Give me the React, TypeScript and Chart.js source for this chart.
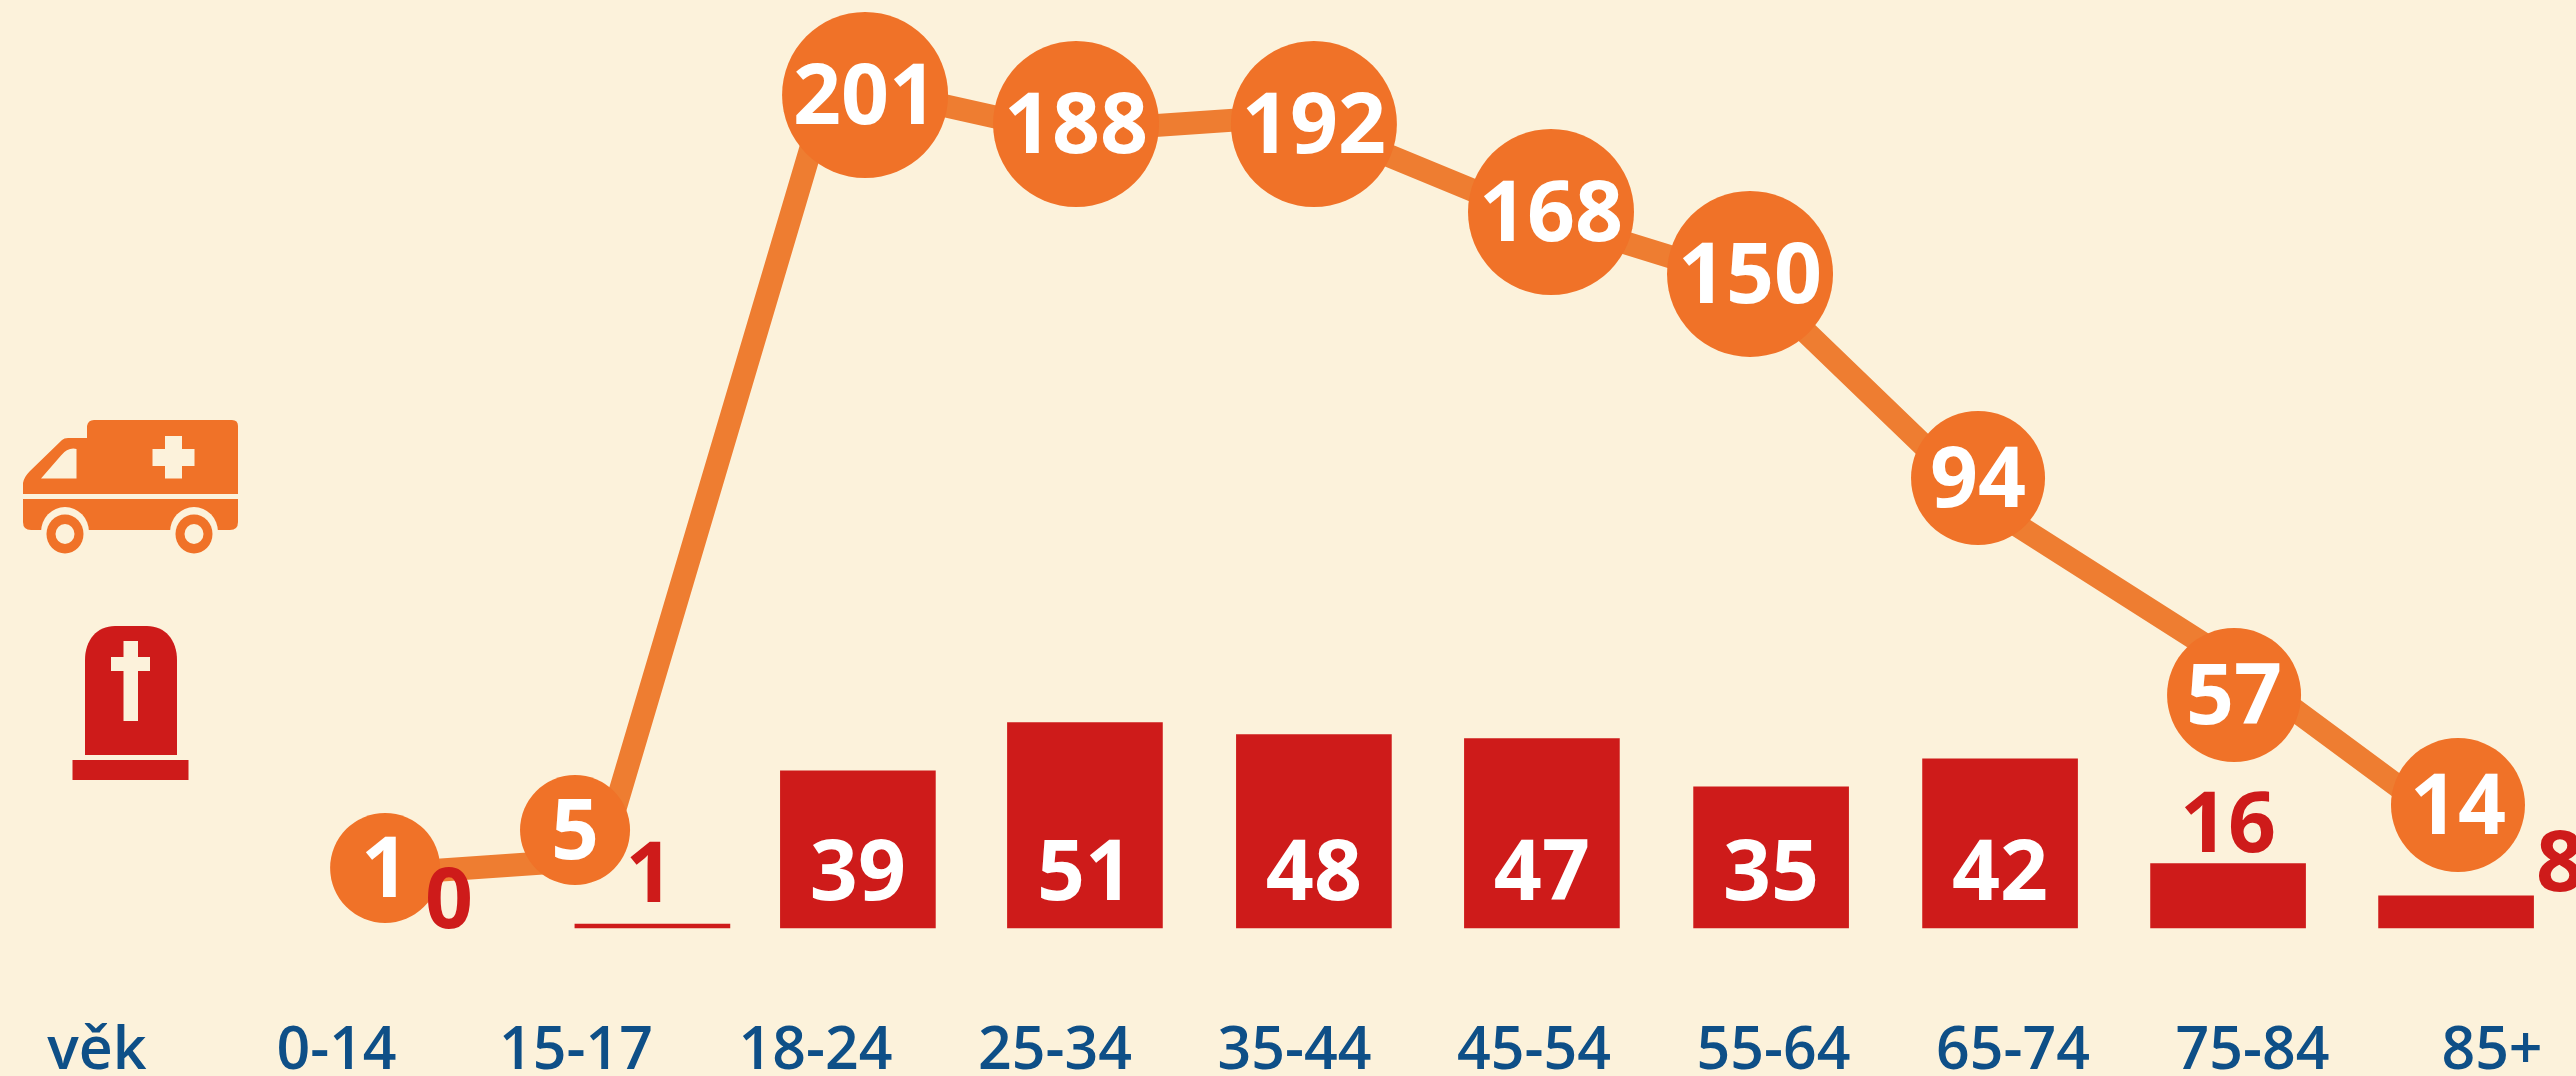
import React, { useEffect, useRef } from "react";
import { Chart, registerables, LinearScale } from "chart.js";

const axisLabels = ["věk", "0-14", "15-17", "18-24", "25-34", "35-44", "45-54", "55-64", "65-74", "75-84", "85+"];
const callValues = [1, 5, 201, 188, 192, 168, 150, 94, 57, 14];
const deathValues = [0, 1, 39, 51, 48, 47, 35, 42, 16, 8];

const BACKGROUND = "#FCF2DB";
const LINE_ORANGE = "#EE7D31";
const POINT_ORANGE = "#F07228";
const RED = "#CE1B1A";
const BLUE = "#0E4F87";
const FONT = '"Open Sans", "Noto Sans", sans-serif';

// The line follows evenly spaced axes, but the bubbles and bars were hand-placed
// in the infographic, so their hidden axes are calibrated.
// Each pair is [data value, decimal position along the axis].
const bubbleLevelKnots = [[1, 0.0825], [5, 0.1226], [14, 0.149], [57, 0.2653], [94, 0.4947], [150, 0.7104], [168, 0.7759], [188, 0.8689], [192, 0.8689], [201, 0.8996]];
const bubbleSlotKnots = [[0, 0.1203], [1, 0.1996], [2, 0.3207], [3, 0.4088], [4, 0.5081], [5, 0.6071], [6, 0.6902], [7, 0.7854], [8, 0.8923], [9, 0.9858]];
const deathSlotKnots = [[0, 0.147], [1, 0.2319], [2, 0.3177], [3, 0.4125], [4, 0.5081], [5, 0.6033], [6, 0.699], [7, 0.7946], [8, 0.8898], [9, 0.985]];
const trendSlotKnots = [[0, 0.1136], [9, 0.9816]];
const trendLevelKnots = [[0, 0.0709], [201, 0.9151]];

class CalibratedScale extends LinearScale {
  static id = "calibrated";
  static defaults = LinearScale.defaults;
  getPixelForValue(value: number) {
    const knots = (this.options as any).knots as number[][];
    let i = 0;
    while (i < knots.length - 2 && value > knots[i + 1][0]) i++;
    const [v0, d0] = knots[i];
    const [v1, d1] = knots[i + 1];
    return this.getPixelForDecimal(d0 + ((value - v0) / (v1 - v0)) * (d1 - d0));
  }
}

Chart.register(...registerables, CalibratedScale as any);

function drawAmbulance(c: CanvasRenderingContext2D) {
  c.save();
  c.fillStyle = POINT_ORANGE;
  c.beginPath();
  c.moveTo(23, 494);
  c.lineTo(23, 483);
  c.quadraticCurveTo(24, 477, 30, 471);
  c.lineTo(62, 440);
  c.quadraticCurveTo(64, 438, 68, 438);
  c.lineTo(87, 438);
  c.lineTo(87, 426);
  c.quadraticCurveTo(88, 420, 94, 420);
  c.lineTo(232, 420);
  c.quadraticCurveTo(238, 420, 238, 426);
  c.lineTo(238, 494);
  c.closePath();
  c.fill();
  c.beginPath();
  c.moveTo(23, 499);
  c.lineTo(238, 499);
  c.lineTo(238, 522);
  c.quadraticCurveTo(238, 530, 230, 530);
  c.lineTo(31, 530);
  c.quadraticCurveTo(23, 530, 23, 522);
  c.closePath();
  c.fill();
  c.fillStyle = BACKGROUND;
  c.beginPath();
  c.moveTo(76.5, 449);
  c.lineTo(76.5, 478.5);
  c.lineTo(41, 478.5);
  c.lineTo(61, 455.5);
  c.quadraticCurveTo(68, 447, 76.5, 449);
  c.closePath();
  c.fill();
  c.fillRect(152.5, 449, 42, 17);
  c.fillRect(165, 436, 17, 42.5);
  for (const x of [65, 194]) {
    c.fillStyle = BACKGROUND;
    c.beginPath();
    c.ellipse(x, 532, 24, 25, 0, 0, Math.PI * 2);
    c.fill();
    c.fillStyle = POINT_ORANGE;
    c.beginPath();
    c.ellipse(x, 534, 18.5, 19.5, 0, 0, Math.PI * 2);
    c.fill();
    c.fillStyle = BACKGROUND;
    c.beginPath();
    c.ellipse(x, 534, 9.5, 10, 0, 0, Math.PI * 2);
    c.fill();
  }
  c.restore();
}

function drawTombstone(c: CanvasRenderingContext2D) {
  c.save();
  c.fillStyle = RED;
  c.beginPath();
  c.moveTo(85, 755);
  c.lineTo(85, 660);
  c.bezierCurveTo(85, 640, 97, 626, 115, 626);
  c.lineTo(147, 626);
  c.bezierCurveTo(165, 626, 177, 640, 177, 660);
  c.lineTo(177, 755);
  c.closePath();
  c.fill();
  c.fillRect(72.5, 760, 116, 20);
  c.fillStyle = BACKGROUND;
  c.fillRect(123.5, 641, 14.5, 80);
  c.fillRect(111, 657, 39, 14);
  c.restore();
}

const pictogramPlugin = {
  id: "pictograms",
  beforeDatasetsDraw(chart: any) {
    drawAmbulance(chart.ctx);
    drawTombstone(chart.ctx);
  },
};

// Nudges for the small death counts, which sit beside or above their bars.
const smallLabelNudge: Record<number, [number, number]> = {
  0: [0, -29],
  1: [-3, -51],
  8: [0, -41],
  9: [104, -34],
};

const valueLabelPlugin = {
  id: "valueLabels",
  afterDatasetsDraw(chart: any) {
    const c = chart.ctx;
    const capHalf = 29;
    c.save();
    c.font = `700 84px ${FONT}`;
    c.textAlign = "center";
    c.textBaseline = "alphabetic";
    chart.getDatasetMeta(2).data.forEach((pt: any, i: number) => {
      c.fillStyle = "#FFFFFF";
      c.fillText(String(callValues[i]), pt.x, pt.y + capHalf);
    });
    chart.getDatasetMeta(0).data.forEach((bar: any, i: number) => {
      const nudge = smallLabelNudge[i];
      if (nudge) {
        c.fillStyle = RED;
        c.fillText(String(deathValues[i]), bar.x + nudge[0], bar.y + nudge[1] + capHalf);
      } else {
        c.fillStyle = "#FFFFFF";
        c.fillText(String(deathValues[i]), bar.x, bar.base - 57 + capHalf);
      }
    });
    c.restore();
  },
};

const bubbleRadius = (ctx: any) => [0, 55, 67, 83][String(callValues[ctx.dataIndex]).length];

export default function App() {
  const ref = useRef<HTMLCanvasElement>(null);
  useEffect(() => {
    document.body.style.margin = "0";
    document.body.style.overflow = "hidden";
    const chart = new Chart(ref.current as HTMLCanvasElement, {
      type: "bar",
      data: {
        datasets: [
          {
            type: "bar",
            label: "zemřelí",
            data: deathValues.map((y, x) => ({ x, y })),
            xAxisID: "xDeaths",
            yAxisID: "yDeaths",
            backgroundColor: (ctx: any) => (deathValues[ctx.dataIndex] > 0 ? RED : "rgba(0,0,0,0)"),
            barThickness: 155,
            grouped: false,
            clip: false,
            order: 3,
          },
          {
            type: "line",
            label: "výjezdy",
            data: callValues.map((y, x) => ({ x, y })),
            xAxisID: "xTrend",
            yAxisID: "yTrend",
            borderColor: LINE_ORANGE,
            borderWidth: 23,
            tension: 0,
            pointRadius: 0,
            clip: false,
            order: 2,
          },
          {
            type: "line",
            label: "výjezdy (popisky)",
            data: callValues.map((y, x) => ({ x, y })),
            xAxisID: "xBubbles",
            yAxisID: "yBubbles",
            showLine: false,
            pointBackgroundColor: POINT_ORANGE,
            pointBorderWidth: 0,
            pointRadius: bubbleRadius,
            pointHoverRadius: bubbleRadius,
            clip: false,
            order: 1,
          },
        ] as any,
      },
      options: {
        responsive: false,
        animation: false,
        events: [],
        layout: { autoPadding: false, padding: { left: 97, right: 84, top: 0, bottom: 0 } },
        plugins: { legend: { display: false }, tooltip: { enabled: false }, title: { display: false } },
        scales: {
          x: {
            type: "category",
            labels: axisLabels,
            position: "bottom",
            offset: false,
            grid: { display: false },
            border: { display: false },
            afterFit: (s: any) => {
              s.height = 130;
              s.paddingLeft = 0;
              s.paddingRight = 0;
              s.paddingTop = 0;
              s.paddingBottom = 0;
            },
            ticks: {
              color: BLUE,
              padding: 63,
              autoSkip: false,
              maxRotation: 0,
              minRotation: 0,
              font: { family: FONT, size: 59, weight: "600" },
            },
          },
          xDeaths: { type: "calibrated", axis: "x", position: "bottom", display: false, min: 0, max: 9, knots: deathSlotKnots },
          xBubbles: { type: "calibrated", axis: "x", position: "bottom", display: false, min: 0, max: 9, knots: bubbleSlotKnots },
          xTrend: { type: "calibrated", axis: "x", position: "bottom", display: false, min: 0, max: 9, knots: trendSlotKnots },
          yDeaths: { type: "linear", axis: "y", position: "left", display: false, min: -4.47, max: 230.27 },
          yBubbles: { type: "calibrated", axis: "y", position: "left", display: false, min: 0, max: 230, knots: bubbleLevelKnots },
          yTrend: { type: "calibrated", axis: "y", position: "left", display: false, min: 0, max: 230, knots: trendLevelKnots },
        } as any,
      },
      plugins: [pictogramPlugin, valueLabelPlugin],
    } as any);
    return () => chart.destroy();
  }, []);
  return (
    <div style={{ position: "absolute", left: 0, top: 0, width: 2576, height: 1076, background: BACKGROUND, overflow: "hidden" }}>
      <canvas ref={ref} width={2576} height={1076} style={{ display: "block" }} />
    </div>
  );
}
